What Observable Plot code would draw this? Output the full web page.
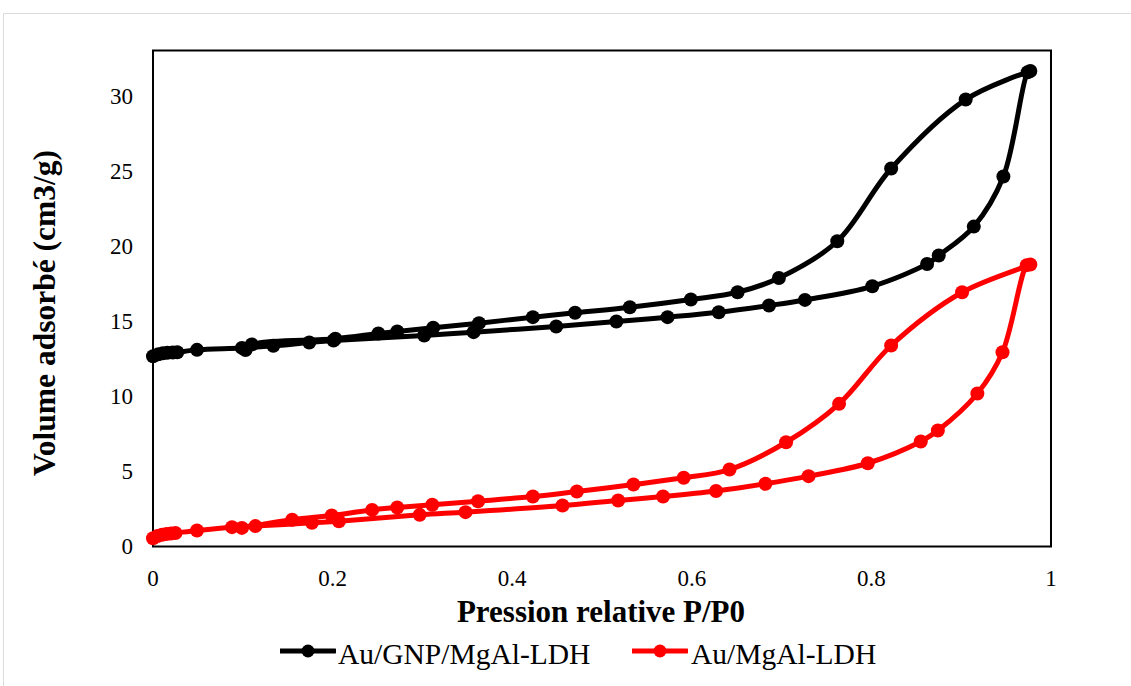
<!DOCTYPE html>
<html>
<head>
<meta charset="utf-8">
<script src="https://cdn.jsdelivr.net/npm/d3@7"></script>
<script src="https://cdn.jsdelivr.net/npm/@observablehq/plot@0.6"></script>
<style>
  html, body { margin: 0; padding: 0; background: #fff; overflow: hidden; width: 1131px; height: 686px; }
  #wrap { position: relative; width: 1131px; height: 686px; font-family: "Liberation Serif", "Times New Roman", serif; color: #000; }
  #border { position: absolute; left: 3px; top: 13px; width: 1200px; height: 720px; border: 1.5px solid #dcdcdc; }
  #chart { position: absolute; left: 0; top: 0; }
  .xlabel { position: absolute; left: 601px; top: 594px; line-height: 36px; font-size: 31px; font-weight: bold; white-space: nowrap; transform: translateX(-50%); }
  .ylabel { position: absolute; left: 45px; top: 313px; line-height: 36px; font-size: 31.5px; font-weight: bold; white-space: nowrap; transform: translate(-50%, -50%) rotate(-90deg); }
  .legsw { position: absolute; }
  .legtx { position: absolute; font-size: 29.5px; line-height: 34px; white-space: nowrap; }
</style>
</head>
<body>
<div id="wrap">
  <div id="border"></div>
  <div id="chart"></div>
</div>
<script>
// ---- Data ----
const seriesNames = ["Au/GNP/MgAl-LDH", "Au/MgAl-LDH"];
const seriesColors = ["#000000", "#ff0000"];

// Au/GNP/MgAl-LDH : adsorption branch followed by desorption branch
const blackX = [0.000, 0.006, 0.011, 0.016, 0.022, 0.027, 0.049, 0.099, 0.134, 0.174, 0.201, 0.302, 0.357, 0.449, 0.516, 0.573, 0.630, 0.686, 0.726, 0.801, 0.862, 0.875, 0.914, 0.947, 0.974,
                0.977, 0.905, 0.822, 0.762, 0.697, 0.651, 0.599, 0.531, 0.470, 0.423, 0.363, 0.312, 0.272, 0.251, 0.203, 0.110, 0.103];
const blackY = [12.68, 12.82, 12.88, 12.91, 12.93, 12.95, 13.11, 13.24, 13.38, 13.60, 13.73, 14.07, 14.29, 14.67, 15.00, 15.29, 15.62, 16.07, 16.44, 17.35, 18.84, 19.40, 21.33, 24.67, 31.62,
                31.70, 29.80, 25.20, 20.35, 17.90, 16.95, 16.47, 15.95, 15.58, 15.29, 14.89, 14.58, 14.33, 14.20, 13.85, 13.47, 13.10];

// Au/MgAl-LDH : adsorption branch followed by desorption branch
const redX = [0.000, 0.005, 0.010, 0.015, 0.020, 0.025, 0.049, 0.088, 0.114, 0.177, 0.207, 0.297, 0.348, 0.456, 0.518, 0.568, 0.627, 0.682, 0.730, 0.796, 0.855, 0.874, 0.918, 0.946, 0.973,
              0.977, 0.901, 0.822, 0.764, 0.705, 0.642, 0.591, 0.535, 0.472, 0.423, 0.362, 0.311, 0.272, 0.244, 0.199, 0.155, 0.099];
const redY = [0.55, 0.70, 0.78, 0.83, 0.87, 0.90, 1.07, 1.29, 1.36, 1.58, 1.68, 2.11, 2.29, 2.73, 3.07, 3.33, 3.70, 4.18, 4.69, 5.55, 7.00, 7.73, 10.20, 12.95, 18.76,
              18.80, 16.95, 13.40, 9.51, 6.95, 5.13, 4.58, 4.13, 3.67, 3.33, 3.02, 2.78, 2.60, 2.44, 2.07, 1.78, 1.24];

const xTicks = [0, 0.2, 0.4, 0.6, 0.8, 1];
const xTickLabels = ["0", "0.2", "0.4", "0.6", "0.8", "1"];
const yTicks = [0, 5, 10, 15, 20, 25, 30];
const xTitle = "Pression relative P/P0";
const yTitle = "Volume adsorbé (cm3/g)";

// ---- Build tables ----
const black = blackX.map((x, i) => ({x, y: blackY[i]}));
const red = redX.map((x, i) => ({x, y: redY[i]}));

const plot = Plot.plot({
  width: 1131,
  height: 630,
  marginLeft: 152.5,
  marginRight: 80.5,
  marginTop: 50,
  marginBottom: 84,
  style: {fontFamily: '"Liberation Serif", "Times New Roman", serif', fontSize: "23px", color: "#000", background: "transparent", overflow: "visible"},
  x: {domain: [0, 1], ticks: xTicks, tickFormat: d => xTickLabels[xTicks.indexOf(d)], tickSize: 0, tickPadding: 23.5, label: null},
  y: {domain: [0, 33.07], ticks: yTicks, tickSize: 0, tickPadding: 20, label: null},
  marks: [
    Plot.frame({stroke: "#000", strokeWidth: 2}),
    Plot.line(black, {x: "x", y: "y", stroke: seriesColors[0], strokeWidth: 5, curve: "catmull-rom"}),
    Plot.dot(black, {x: "x", y: "y", r: 7, fill: seriesColors[0], stroke: "none"}),
    Plot.line(red, {x: "x", y: "y", stroke: seriesColors[1], strokeWidth: 5, curve: "catmull-rom"}),
    Plot.dot(red, {x: "x", y: "y", r: 7, fill: seriesColors[1], stroke: "none"})
  ]
});

const wrap = document.getElementById("wrap");
document.getElementById("chart").append(plot);

// axis titles
const xl = document.createElement("div");
xl.className = "xlabel"; xl.textContent = xTitle; wrap.append(xl);
const yl = document.createElement("div");
yl.className = "ylabel"; yl.textContent = yTitle; wrap.append(yl);

// legend
const legPos = [{sw: 280, tx: 338}, {sw: 632, tx: 691}];
seriesNames.forEach((name, i) => {
  const ns = "http://www.w3.org/2000/svg";
  const s = document.createElementNS(ns, "svg");
  s.setAttribute("width", 56); s.setAttribute("height", 16);
  s.setAttribute("class", "legsw");
  s.style.left = legPos[i].sw + "px"; s.style.top = "643px";
  const ln = document.createElementNS(ns, "line");
  ln.setAttribute("x1", 0); ln.setAttribute("x2", 55); ln.setAttribute("y1", 8); ln.setAttribute("y2", 8);
  ln.setAttribute("stroke", seriesColors[i]); ln.setAttribute("stroke-width", 5);
  ln.setAttribute("stroke-linecap", "round");
  const c = document.createElementNS(ns, "circle");
  c.setAttribute("cx", 28); c.setAttribute("cy", 8); c.setAttribute("r", 6.5); c.setAttribute("fill", seriesColors[i]);
  s.append(ln, c);
  wrap.append(s);
  const t = document.createElement("div");
  t.className = "legtx"; t.textContent = name;
  t.style.left = legPos[i].tx + "px"; t.style.top = "637px";
  wrap.append(t);
});
</script>
</body>
</html>
